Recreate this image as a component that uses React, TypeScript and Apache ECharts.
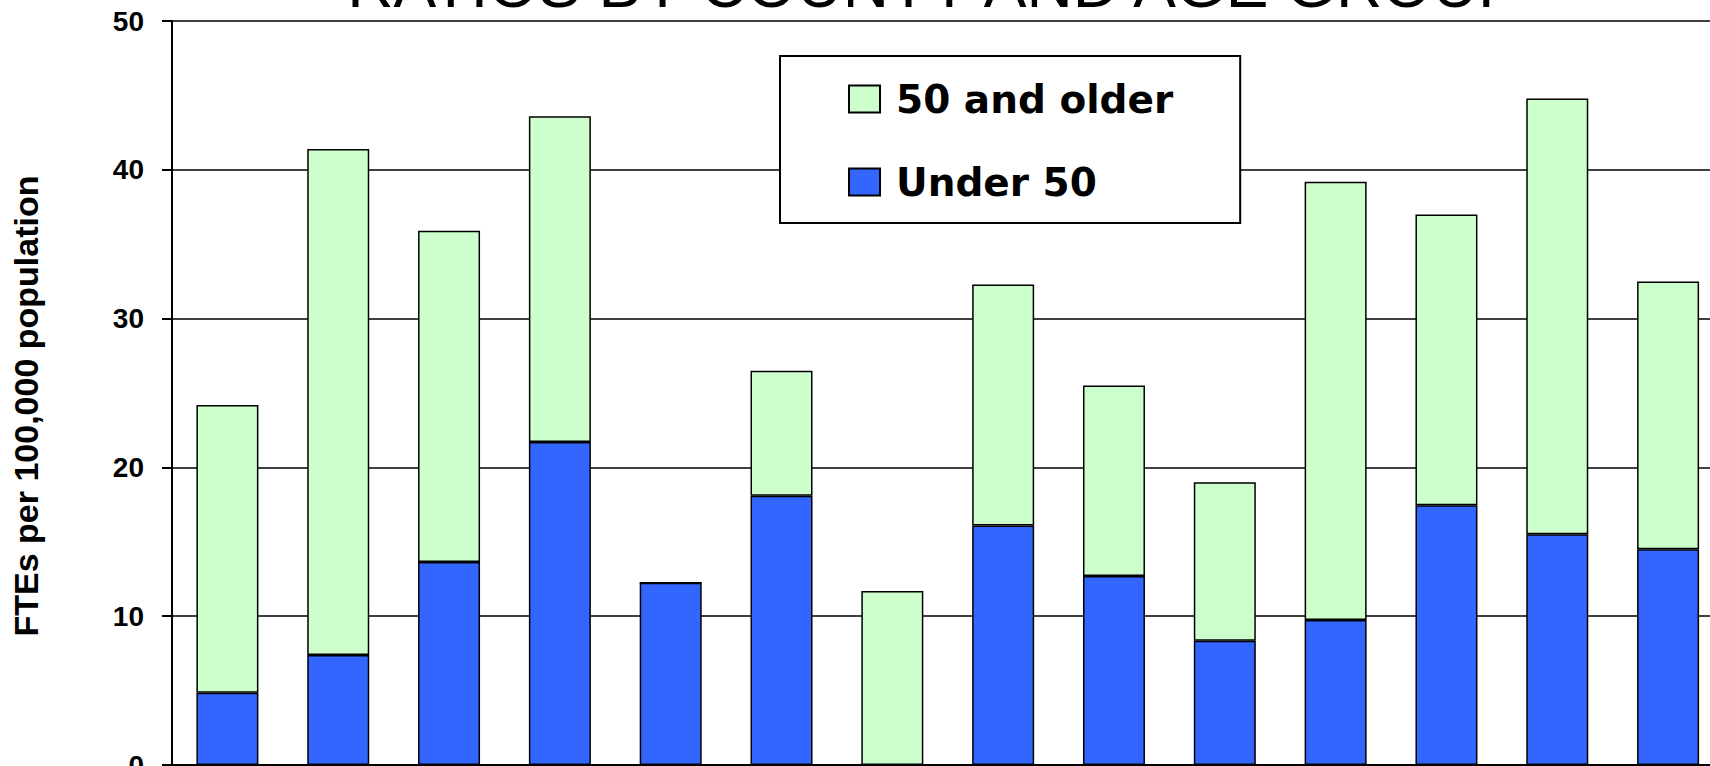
import React, { useEffect, useRef } from "react";
import * as echarts from "echarts";

const categories = [
  "County 1", "County 2", "County 3", "County 4", "County 5", "County 6", "County 7",
  "County 8", "County 9", "County 10", "County 11", "County 12", "County 13", "County 14",
];
const under50 = [4.85, 7.4, 13.65, 21.7, 12.25, 18.1, 0, 16.1, 12.7, 8.35, 9.75, 17.45, 15.5, 14.5];
const older50 = [19.35, 34.0, 22.25, 21.9, 0, 8.4, 11.7, 16.2, 12.8, 10.65, 29.45, 19.55, 29.3, 18.0];
const yTicks = { min: 0, max: 50, interval: 10 };
const titleText = "RATIOS BY COUNTY AND AGE GROUP";
const yName = "FTEs per 100,000 population";

export default function App() {
  const ref = useRef<HTMLDivElement>(null);
  useEffect(() => {
    if (!ref.current) return;
    const chart = echarts.init(ref.current, undefined, { renderer: "svg" });
    const border = { borderColor: "#000", borderWidth: 1.5 };
    chart.setOption({
      animation: false,
      backgroundColor: "#fff",
      title: {
        text: titleText,
        left: 929,
        top: -52,
        textAlign: "center",
        textStyle: { fontFamily: "Liberation Sans", fontWeight: "normal", fontSize: 64, color: "#000" },
      },
      legend: {
        orient: "vertical",
        left: 780,
        top: 56,
        data: ["50 and older", "Under 50"],
        icon: "rect",
        itemWidth: 31,
        itemHeight: 27,
        itemGap: 43,
        padding: [23, 67, 21, 68],
        backgroundColor: "#fff",
        borderColor: "#000",
        borderWidth: 2,
        borderRadius: 0,
        textStyle: {
          fontFamily: "DejaVu Sans",
          fontWeight: "bold",
          fontSize: 39,
          lineHeight: 40,
          color: "#000",
          padding: [0, 0, 0, 11],
        },
      },
      grid: {
        left: 172,
        right: -13.5,
        top: 21,
        bottom: 1,
        containLabel: false,
        outerBoundsMode: "none",
      },
      xAxis: {
        type: "category",
        data: categories,
        axisLine: { lineStyle: { color: "#000", width: 2 } },
        axisTick: { show: false },
        axisLabel: { show: false },
      },
      yAxis: {
        type: "value",
        min: yTicks.min,
        max: yTicks.max,
        interval: yTicks.interval,
        axisLine: { show: true, lineStyle: { color: "#000", width: 2 } },
        axisTick: { show: true, length: 10, lineStyle: { color: "#000", width: 2 } },
        axisLabel: {
          margin: 28,
          fontFamily: "Liberation Sans",
          fontWeight: "bold",
          fontSize: 28,
          color: "#000",
        },
        splitLine: { show: true, lineStyle: { color: "#000", width: 1.5 } },
      },
      graphic: [
        {
          type: "text",
          x: 26,
          y: 406,
          rotation: Math.PI / 2,
          style: {
            text: yName,
            font: "bold 34px 'Liberation Sans'",
            fill: "#000",
            align: "center",
            verticalAlign: "middle",
          },
        },
      ],
      series: [
        {
          name: "Under 50",
          type: "bar",
          stack: "total",
          data: under50,
          barWidth: 62,
          itemStyle: { color: "#3366FF", ...border },
        },
        {
          name: "50 and older",
          type: "bar",
          stack: "total",
          data: older50,
          barWidth: 62,
          itemStyle: { color: "#CCFFCC", ...border },
        },
      ],
    });
    return () => chart.dispose();
  }, []);
  return (
    <div
      ref={ref}
      style={{ position: "absolute", left: 0, top: 0, width: 1710, height: 766 }}
    />
  );
}
